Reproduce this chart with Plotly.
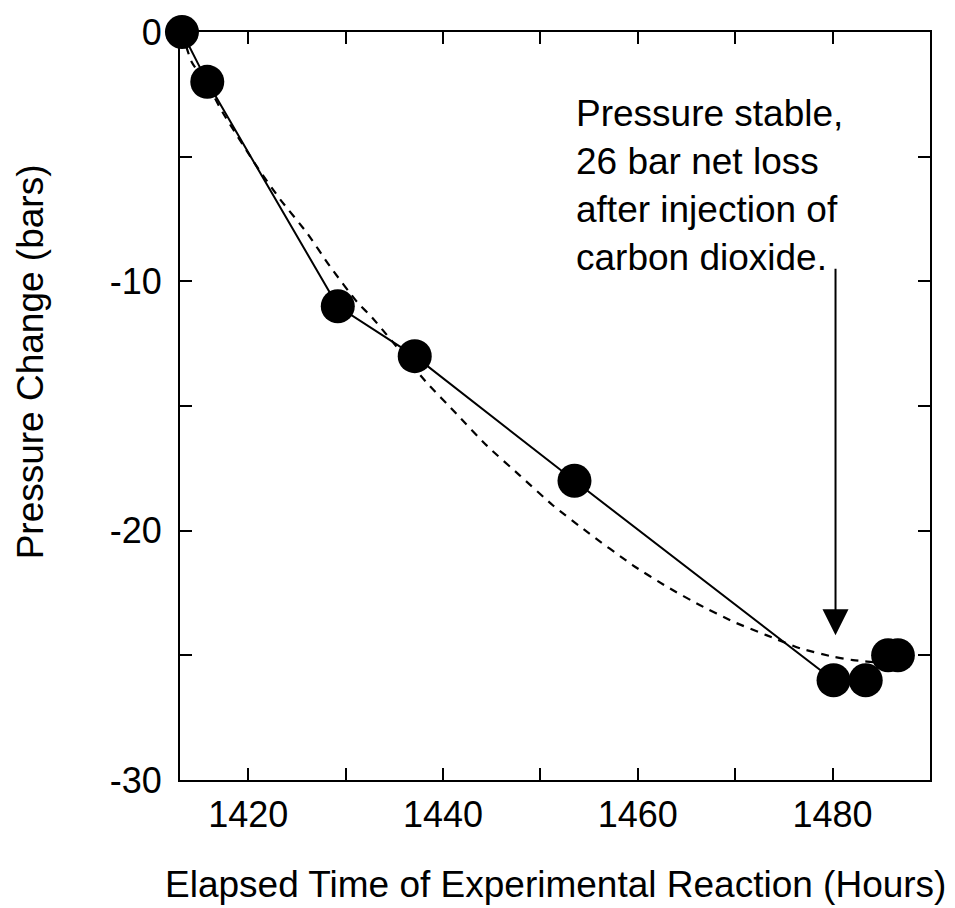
import plotly.graph_objects as go

# Measured data (elapsed hours, pressure change in bars)
hours = [1413.2, 1415.8, 1429.2, 1437.1, 1453.5, 1480.1, 1483.4, 1485.7, 1486.7]
pressure = [0, -2, -11, -13, -18, -26, -26, -25, -25]

# Dashed fit curve
fit_hours = [1413.2, 1414.2, 1415.8, 1417.4, 1420.9, 1423.3, 1426.0, 1428.4, 1431.2,
             1432.7, 1438.3, 1441.4, 1444.5, 1447.9, 1451.3, 1454.8, 1459.5, 1463.0,
             1466.4, 1469.8, 1473.2, 1476.7, 1480.0, 1482.1, 1485.0, 1487.0]
fit_pressure = [0, -1.2, -2.1, -3.24, -5.4, -6.72, -8.04, -9.4, -10.84,
                -11.44, -14.05, -15.32, -16.59, -17.79, -18.99, -20.05, -21.39, -22.25,
                -22.99, -23.65, -24.19, -24.72, -25.05, -25.19, -25.3, -25.35]

x_ticks = [1420, 1440, 1460, 1480]
y_ticks = [0, -10, -20, -30]

note_text = "Pressure stable,<br>26 bar net loss<br>after injection of<br>carbon dioxide."
x_title = "Elapsed Time of Experimental Reaction (Hours)"
y_title = "Pressure Change (bars)"

FONT = "Arial, Liberation Sans, sans-serif"

fig = go.Figure()
fig.add_trace(go.Scatter(x=fit_hours, y=fit_pressure, mode="lines",
                         line=dict(color="black", width=2.2, dash="8px,7px", shape="spline", smoothing=0.6),
                         hoverinfo="skip", showlegend=False))
fig.add_trace(go.Scatter(x=hours, y=pressure, mode="lines+markers",
                         line=dict(color="black", width=2),
                         marker=dict(color="black", size=34),
                         cliponaxis=False, showlegend=False))

fig.add_annotation(x=1480.3, y=-24.19, ax=1480.3, ay=-9.44, xref="x", yref="y",
                   axref="x", ayref="y", text="", showarrow=True,
                   arrowhead=2, arrowsize=2.6, arrowwidth=2, arrowcolor="black", standoff=0)
fig.add_annotation(x=1453.4, y=-2.36, xref="x", yref="y", text=note_text,
                   showarrow=False, xanchor="left", yanchor="top", align="left",
                   font=dict(family=FONT, size=37, color="black"))
fig.add_annotation(x=0.5, y=-0.140, xref="paper", yref="paper", text=x_title,
                   showarrow=False, xanchor="center", yanchor="middle",
                   font=dict(family=FONT, size=37, color="black"))
fig.add_annotation(x=-0.2, y=-13.25, xref="paper", yref="y", text=y_title,
                   showarrow=False, textangle=-90, xanchor="center", yanchor="middle",
                   font=dict(family=FONT, size=37, color="black"))

axis_common = dict(showgrid=False, zeroline=False, showline=True, linecolor="black",
                   linewidth=2, mirror="ticks", ticks="inside", ticklen=12, tickwidth=2,
                   tickcolor="black", tickfont=dict(family=FONT, size=36, color="black"),
                   automargin=False)

fig.update_xaxes(range=[1413, 1490], tickvals=x_ticks, ticktext=[str(v) for v in x_ticks],
                 minor=dict(dtick=10, tick0=1420, ticks="inside", ticklen=12, tickwidth=2, tickcolor="black"),
                 ticklabelstandoff=2, **axis_common)
fig.update_yaxes(range=[-30, 0], tickvals=y_ticks, ticktext=[str(v) for v in y_ticks],
                 minor=dict(dtick=5, tick0=0, ticks="inside", ticklen=12, tickwidth=2, tickcolor="black"),
                 ticklabelstandoff=9, **axis_common)

fig.update_layout(width=947, height=900, plot_bgcolor="white", paper_bgcolor="white",
                  margin=dict(l=172, r=25, t=24, b=128), showlegend=False)

fig.write_html("out.html")
